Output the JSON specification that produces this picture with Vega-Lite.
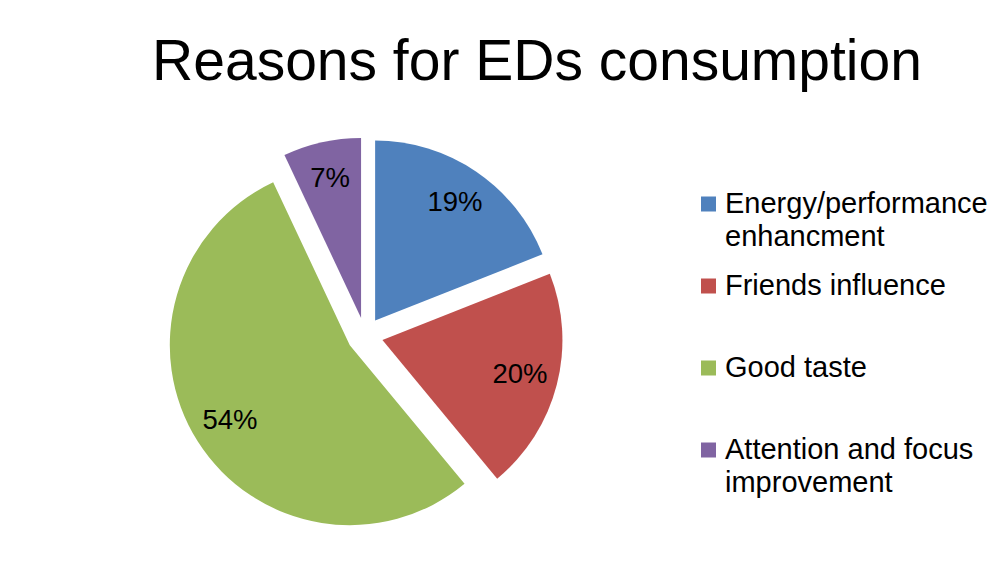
{
  "$schema": "https://vega.github.io/schema/vega-lite/v6.json",
  "width": 730,
  "height": 471,
  "autosize": {"type": "none"},
  "padding": {"left": 0, "top": 100, "right": 276, "bottom": 16},
  "background": "white",
  "config": {"view": {"stroke": null}, "font": "Liberation Sans"},
  "title": {
    "text": "Reasons for EDs consumption",
    "font": "Liberation Sans",
    "fontSize": 57,
    "fontWeight": "normal",
    "color": "#000000",
    "anchor": "middle",
    "frame": "group",
    "dx": 172,
    "offset": 8
  },
  "data": {
    "values": [
      {"reason": "Energy/performance enhancment", "share": 0.19, "rank": 1},
      {"reason": "Friends influence", "share": 0.20, "rank": 2},
      {"reason": "Good taste", "share": 0.54, "rank": 3},
      {"reason": "Attention and focus improvement", "share": 0.07, "rank": 4}
    ]
  },
  "encoding": {
    "theta": {"field": "share", "type": "quantitative", "stack": true},
    "order": {"field": "rank", "type": "quantitative"}
  },
  "layer": [
    {
      "mark": {
        "type": "arc",
        "outerRadius": 180,
        "xOffset": {"expr": "18*sin(scale('theta', (datum.share_start + datum.share_end)/2))"},
        "yOffset": {"expr": "-18*cos(scale('theta', (datum.share_start + datum.share_end)/2))"}
      },
      "encoding": {
        "color": {
          "field": "reason",
          "type": "nominal",
          "scale": {
            "domain": ["Energy/performance enhancment", "Friends influence", "Good taste", "Attention and focus improvement"],
            "range": ["#4F81BD", "#C0504D", "#9BBB59", "#8064A2"]
          },
          "legend": {
            "orient": "none",
            "legendX": 694,
            "legendY": 89.5,
            "title": null,
            "padding": 0,
            "symbolType": "square",
            "symbolSize": 225,
            "symbolStrokeWidth": 0,
            "labelFont": "Liberation Sans",
            "labelFontSize": 29,
            "labelColor": "#000000",
            "labelOffset": 2,
            "labelLimit": 400,
            "labelBaseline": "top",
            "rowPadding": 19,
            "labelExpr": "datum.label == 'Energy/performance enhancment' ? ['Energy/performance', 'enhancment'] : datum.label == 'Attention and focus improvement' ? ['Attention and focus', 'improvement'] : [datum.label, '']",
            "encode": {"labels": {"update": {"dy": {"value": -14.2}, "lineHeight": {"value": 33}}}}
          }
        }
      }
    },
    {
      "mark": {
        "type": "text",
        "radius": 142,
        "font": "Liberation Sans",
        "fontSize": 27.5,
        "fill": "#000000",
        "xOffset": {"expr": "18*sin(scale('theta', (datum.share_start + datum.share_end)/2))"},
        "yOffset": {"expr": "-18*cos(scale('theta', (datum.share_start + datum.share_end)/2))"}
      },
      "encoding": {
        "detail": {"field": "reason", "type": "nominal"},
        "text": {"field": "share", "type": "quantitative", "format": ".0%"}
      }
    }
  ]
}
